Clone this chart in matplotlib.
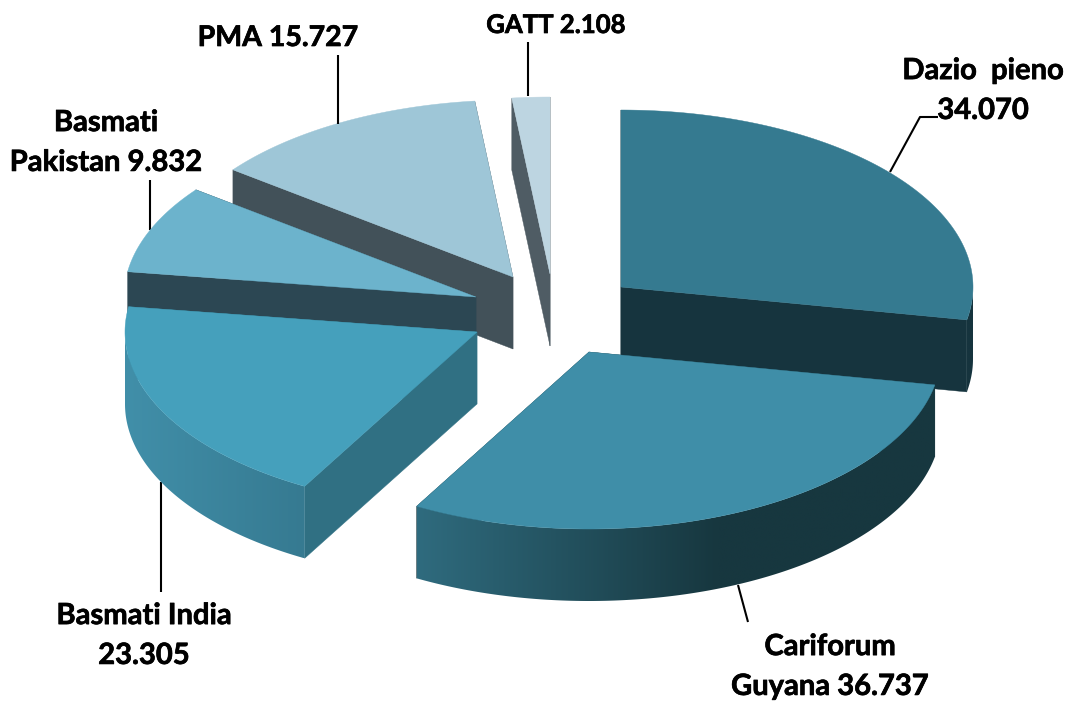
import matplotlib
matplotlib.use('Agg')
import matplotlib.pyplot as plt
import matplotlib.patheffects as pe
from matplotlib.patches import Polygon
from matplotlib.colors import to_rgb
import numpy as np

plt.rcParams['font.family'] = ['Lato', 'DejaVu Sans']

# data, clockwise from 12 o'clock
names = ['Dazio  pieno\n{}', 'Cariforum\nGuyana {}', 'Basmati India\n{}',
         'Basmati\nPakistan {}', 'PMA {}', 'GATT {}']
values = [34.070, 36.737, 23.305, 9.832, 15.727, 2.108]

# look of each slice
top_colors = ['#357a90', '#3f8ea8', '#45a0bc', '#6cb3cc', '#9ec6d7', '#bdd5e1']
cut_colors = ['#16343e', '#17373f', '#307083', '#2c4753', '#425159', '#4f5c64']
rim_left = ['#16343e', '#2f6b7e', '#418fa9', '#2c4753', '#425159', '#4f5c64']
rim_right = ['#16343e', '#17373f', '#367a91', '#2c4753', '#425159', '#4f5c64']
rim_stop = [1, 0.58, 1, 1, 1, 1]  # where the rim gradient reaches its end colour

# exploded centre of each slice, in pixels
centers = [(621, 287), (589, 352), (477, 332), (476, 297), (513, 277), (550, 274)]
draw_order = [5, 4, 0, 3, 2, 1]
rx, ry, depth = 352, 177, 72

# label position (pixels), size and leader line
label_pos = [(983, 91), (830, 667), (144, 636), (106, 143), (278, 38), (556, 25)]
label_size = [21, 21, 21, 21, 20.5, 18.5]
leaders = [([890, 920, 938], [172, 117, 117]),
           ([738, 748], [585, 622]),
           ([161, 161], [482, 592]),
           ([150, 150], [180, 230]),
           ([338, 338], [55, 124]),
           ([528, 528], [42, 96])]

fig = plt.figure(figsize=(10.71, 7.02), dpi=100)
ax = fig.add_axes([0, 0, 1, 1])
ax.axis('off')

# slices start at the top and run clockwise
edges = 90 - np.concatenate([[0], np.cumsum(values)]) / sum(values) * 360


def rim_pts(cx, cy, angles):
    a = np.radians(angles)
    return cx + rx * np.cos(a), cy - ry * np.sin(a)


for z, i in enumerate(draw_order):
    cx, cy = centers[i]
    a0, a1 = edges[i], edges[i + 1]
    zb = z * 10

    angles = np.linspace(a0, a1, 200)
    xs, ys = rim_pts(cx, cy, angles)

    # the two cut faces, drawn first so top and rim hide the far one
    for k in [0, -1]:
        quad = [(cx, cy), (xs[k], ys[k]), (xs[k], ys[k] + depth), (cx, cy + depth)]
        ax.fill(*zip(*quad), color=cut_colors[i], lw=0.3, zorder=zb)

    # outer rim, only the part that faces the viewer, gradient left to right
    front = np.sin(np.radians(angles)) <= 0.001
    if front.sum() > 1:
        fx, fy = xs[front], ys[front]
        left, right = fx.min(), fx.max()
        t = np.clip(np.linspace(0, 1, 256) / rim_stop[i], 0, 1)[:, None]
        c0 = np.array(to_rgb(rim_left[i]))
        c1 = np.array(to_rgb(rim_right[i]))
        grad = (c0 + (c1 - c0) * t)[None, :, :]
        outline = np.r_[np.c_[fx, fy], np.c_[fx[::-1], fy[::-1] + depth]]
        patch = Polygon(outline, closed=True, transform=ax.transData, fc='none', ec='none')
        ax.add_patch(patch)
        im = ax.imshow(grad, extent=(left, right, fy.max() + depth, fy.min()),
                       aspect='auto', interpolation='bilinear', zorder=zb + 1)
        im.set_clip_path(patch)

    # top surface
    ax.fill(np.r_[cx, xs], np.r_[cy, ys], color=top_colors[i], lw=0.3, zorder=zb + 2)

for (lx, ly) in leaders:
    ax.plot(lx, ly, color='black', lw=1.5, zorder=1 if lx[0] in (161, 150, 738) else 100,
            solid_capstyle='butt')

for name, v, (tx, ty), fs in zip(names, values, label_pos, label_size):
    t = ax.text(tx, ty, name.format(f'{v:.3f}'), ha='center', va='center', fontsize=fs,
                fontweight='bold', color='black', linespacing=1.66, zorder=200)
    # Lato bold is a bit lighter than the original lettering
    t.set_path_effects([pe.withStroke(linewidth=0.5, foreground='black')])

ax.set_xlim(0, 1071)
ax.set_ylim(702, 0)
fig.savefig('out.png', dpi=100)
